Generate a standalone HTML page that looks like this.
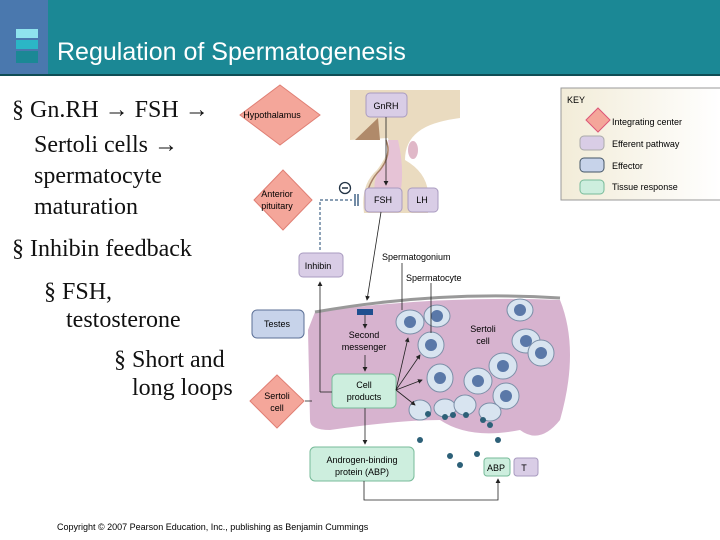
<!DOCTYPE html>
<html><head><style>
body{margin:0;width:720px;height:540px;overflow:hidden;background:#fff;position:relative;font-family:"Liberation Sans",sans-serif}
.t{position:absolute;font-family:"Liberation Serif",serif;font-size:24px;color:#111;white-space:nowrap;line-height:1}
</style></head><body>
<div style="position:absolute;left:0;top:0;width:720px;height:74px;background:#1b8895"></div>
<div style="position:absolute;left:0;top:0;width:48px;height:75px;background:#4a78ae"></div>
<div style="position:absolute;left:0;top:74px;width:720px;height:2px;background:#0f4d55"></div>
<div style="position:absolute;left:16px;top:29px;width:22px;height:9px;background:#8fe3ee"></div>
<div style="position:absolute;left:16px;top:40px;width:22px;height:9px;background:#2bb6c6"></div>
<div style="position:absolute;left:16px;top:51px;width:22px;height:12px;background:#1b8895"></div>
<div style="position:absolute;left:57px;top:38px;color:#fff;font-size:25px">Regulation of Spermatogenesis</div>

<svg width="720" height="540" style="position:absolute;left:0;top:0" font-family="Liberation Sans,sans-serif" font-size="9">
<defs><marker id="a" markerWidth="6" markerHeight="6" refX="5" refY="3" orient="auto"><path d="M0,0L6,3L0,6z" fill="#222"/></marker>
<linearGradient id="k" x1="0" x2="1"><stop offset="0" stop-color="#f2ecd8"/><stop offset="1" stop-color="#fff"/></linearGradient></defs>
<!-- brain tissue -->
<path d="M350,90 L460,90 L460,118 Q430,122 418,132 Q405,142 405,160 Q426,172 428,192 L428,213 L364,213 Q360,185 377,170 Q392,150 388,138 L350,140 Z" fill="#eadbc0"/>
<path d="M355,140 L378,118 L380,140Z" fill="#b08a6a"/>
<path d="M388,140 Q392,160 378,172 Q372,185 376,195 L400,195 Q405,170 398,140Z" fill="#e6c3d6"/>
<path d="M386,140 Q392,155 380,170 Q368,182 366,200" fill="none" stroke="#a88068" stroke-width="1.5"/>
<ellipse cx="413" cy="150" rx="5" ry="9" fill="#e0b8c8"/>
<!-- key -->
<rect x="561" y="88" width="160" height="112" fill="url(#k)" stroke="#999"/>
<text x="567" y="103" font-size="9">KEY</text>
<path d="M598,108 L610,120 L598,132 L586,120Z" fill="#f4a69a" stroke="#d57"/>
<text x="612" y="125">Integrating center</text>
<rect x="580" y="136" width="24" height="14" rx="4" fill="#d9cde6" stroke="#aaa"/><text x="612" y="147">Efferent pathway</text>
<rect x="580" y="158" width="24" height="14" rx="4" fill="#c7d3ea" stroke="#456"/><text x="612" y="169">Effector</text>
<rect x="580" y="180" width="24" height="14" rx="4" fill="#cdeede" stroke="#7b9"/><text x="612" y="190">Tissue response</text>
<!-- tubule -->
<path d="M315,312 Q440,295 560,300 Q580,350 560,420 Q540,445 520,430 Q470,440 440,420 Q400,420 330,430 Q310,430 310,420 L308,330Z" fill="#d7b3cf"/>
<path d="M315,312 Q440,290 560,298" fill="none" stroke="#999" stroke-width="3"/>
<g fill="#d8e4f0" stroke="#7c8fa8">
<ellipse cx="410" cy="322" rx="14" ry="12"/><ellipse cx="437" cy="316" rx="13" ry="11"/>
<ellipse cx="431" cy="345" rx="13" ry="13"/><ellipse cx="440" cy="378" rx="13" ry="14"/>
<ellipse cx="478" cy="381" rx="14" ry="13"/><ellipse cx="503" cy="366" rx="14" ry="13"/>
<ellipse cx="506" cy="396" rx="13" ry="13"/><ellipse cx="526" cy="341" rx="14" ry="12"/>
<ellipse cx="541" cy="353" rx="13" ry="13"/><ellipse cx="520" cy="310" rx="13" ry="11"/>
<ellipse cx="420" cy="410" rx="11" ry="10"/><ellipse cx="445" cy="408" rx="11" ry="9"/><ellipse cx="465" cy="405" rx="11" ry="10"/><ellipse cx="490" cy="412" rx="11" ry="9"/>
</g>
<g fill="#5a78a8"><circle cx="410" cy="322" r="6"/><circle cx="437" cy="316" r="6"/><circle cx="431" cy="345" r="6"/><circle cx="440" cy="378" r="6"/><circle cx="478" cy="381" r="6"/><circle cx="503" cy="366" r="6"/><circle cx="506" cy="396" r="6"/><circle cx="526" cy="341" r="6"/><circle cx="541" cy="353" r="6"/><circle cx="520" cy="310" r="6"/></g>
<g fill="#2d6078"><circle cx="428" cy="414" r="3"/><circle cx="445" cy="417" r="3"/><circle cx="453" cy="415" r="3"/><circle cx="466" cy="415" r="3"/><circle cx="483" cy="420" r="3"/><circle cx="490" cy="425" r="3"/><circle cx="420" cy="440" r="3"/><circle cx="498" cy="440" r="3"/><circle cx="450" cy="456" r="3"/><circle cx="460" cy="465" r="3"/><circle cx="477" cy="454" r="3"/></g>
<!-- nodes -->
<path d="M280,85 L320,115 L280,145 L240,115Z" fill="#f4a69a" stroke="#e07f74"/>
<text x="272" y="118" text-anchor="middle">Hypothalamus</text>
<path d="M283,170 L312,200 L283,230 L254,200Z" fill="#f4a69a" stroke="#e07f74"/>
<text x="277" y="197" text-anchor="middle">Anterior</text><text x="277" y="209" text-anchor="middle">pituitary</text>
<path d="M277,375 L304,401 L277,428 L250,401Z" fill="#f4a69a" stroke="#e07f74"/>
<text x="277" y="399" text-anchor="middle">Sertoli</text><text x="277" y="411" text-anchor="middle">cell</text>
<rect x="366" y="93" width="41" height="24" rx="4" fill="#d9cde6" stroke="#a99bc0"/><text x="386" y="109" text-anchor="middle">GnRH</text>
<rect x="365" y="188" width="37" height="24" rx="4" fill="#d9cde6" stroke="#a99bc0"/><text x="383" y="203" text-anchor="middle">FSH</text>
<rect x="408" y="188" width="30" height="24" rx="4" fill="#d9cde6" stroke="#a99bc0"/><text x="422" y="203" text-anchor="middle">LH</text>
<rect x="299" y="253" width="44" height="24" rx="4" fill="#d9cde6" stroke="#a99bc0"/><text x="318" y="269" text-anchor="middle">Inhibin</text>
<rect x="514" y="458" width="24" height="18" rx="3" fill="#d9cde6" stroke="#a99bc0"/><text x="524" y="471" text-anchor="middle">T</text>
<rect x="252" y="310" width="52" height="28" rx="5" fill="#c7d3ea" stroke="#5b6f96"/><text x="277" y="327" text-anchor="middle">Testes</text>
<rect x="332" y="374" width="64" height="34" rx="5" fill="#cdeede" stroke="#7b9"/><text x="364" y="388" text-anchor="middle">Cell</text><text x="364" y="400" text-anchor="middle">products</text>
<rect x="310" y="447" width="104" height="34" rx="5" fill="#cdeede" stroke="#7b9"/><text x="362" y="463" text-anchor="middle">Androgen-binding</text><text x="362" y="475" text-anchor="middle">protein (ABP)</text>
<rect x="484" y="458" width="26" height="18" rx="3" fill="#cdeede" stroke="#7b9"/><text x="496" y="471" text-anchor="middle">ABP</text>
<!-- connectors -->
<g stroke="#222" fill="none" stroke-width="0.8">
<line x1="386" y1="117" x2="386" y2="185" marker-end="url(#a)"/>
<line x1="381" y1="212" x2="367" y2="300" marker-end="url(#a)"/>
<line x1="320" y1="392" x2="320" y2="282" marker-end="url(#a)"/><line x1="320" y1="392" x2="332" y2="392"/>
<line x1="365" y1="313" x2="365" y2="328" marker-end="url(#a)"/>
<line x1="365" y1="355" x2="365" y2="371" marker-end="url(#a)"/>
<line x1="365" y1="408" x2="365" y2="444" marker-end="url(#a)"/>
<polyline points="364,481 364,500 498,500 498,479" marker-end="url(#a)"/>
<line x1="396" y1="390" x2="408" y2="338" marker-end="url(#a)"/>
<line x1="396" y1="390" x2="420" y2="355" marker-end="url(#a)"/>
<line x1="396" y1="390" x2="422" y2="380" marker-end="url(#a)"/>
<line x1="396" y1="390" x2="415" y2="405" marker-end="url(#a)"/>
<line x1="402" y1="263" x2="402" y2="310"/><line x1="431" y1="283" x2="431" y2="333"/>
<line x1="305" y1="401" x2="312" y2="401"/>
<line x1="355" y1="194" x2="355" y2="206" stroke="#468" stroke-width="1.5"/><line x1="358" y1="194" x2="358" y2="206" stroke="#468" stroke-width="1.5"/>
</g>
<polyline points="320,250 320,200 352,200" fill="none" stroke="#468" stroke-dasharray="3,2" stroke-width="1.2"/>
<circle cx="345" cy="188" r="5.5" fill="#fff" stroke="#234" stroke-width="1.3"/><line x1="342" y1="188" x2="348" y2="188" stroke="#234" stroke-width="1.5"/>
<rect x="357" y="309" width="16" height="6" fill="#1f4f8f"/>
<text x="382" y="260">Spermatogonium</text>
<text x="406" y="281">Spermatocyte</text>
<text x="364" y="338" text-anchor="middle">Second</text><text x="364" y="350" text-anchor="middle">messenger</text>
<text x="483" y="332" text-anchor="middle">Sertoli</text><text x="483" y="344" text-anchor="middle">cell</text>
<text x="57" y="530" font-size="9">Copyright © 2007 Pearson Education, Inc., publishing as Benjamin Cummings</text>
</svg>

<div class="t" style="left:12px;top:98px">§ Gn.RH → FSH →</div>
<div class="t" style="left:34px;top:133px">Sertoli cells →</div>
<div class="t" style="left:34px;top:164px">spermatocyte</div>
<div class="t" style="left:34px;top:195px">maturation</div>
<div class="t" style="left:12px;top:237px">§ Inhibin feedback</div>
<div class="t" style="left:44px;top:280px">§ FSH,</div>
<div class="t" style="left:66px;top:308px">testosterone</div>
<div style="position:absolute;left:114px;top:345px;width:120px;height:60px;overflow:hidden">
<div class="t" style="left:0;top:3px">§ Short and</div>
<div class="t" style="left:18px;top:31px">long loops</div></div>
</body></html>
